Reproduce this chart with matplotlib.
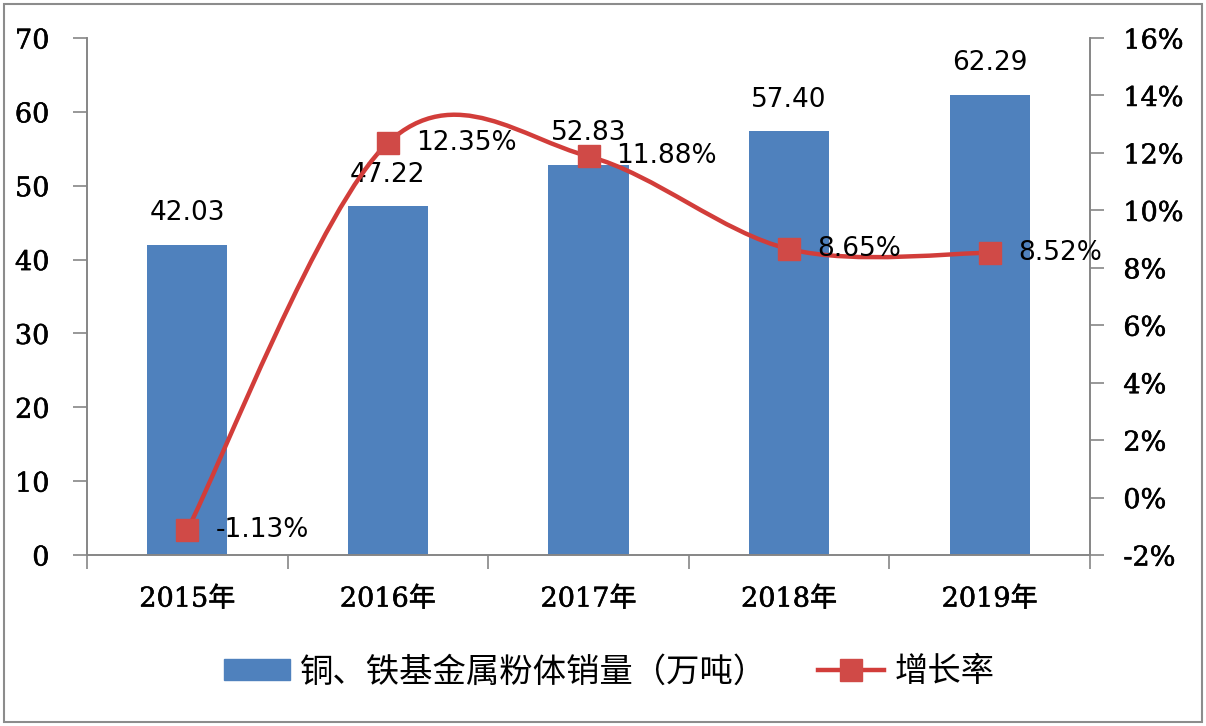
import matplotlib
matplotlib.use('Agg')
import matplotlib.pyplot as plt
import matplotlib.patheffects as pe
from matplotlib.path import Path
from matplotlib.patches import PathPatch, Rectangle
from matplotlib.lines import Line2D
import numpy as np

plt.rcParams['font.family'] = ['Noto Sans CJK SC', 'DejaVu Sans']

# Data
years = ['2015年', '2016年', '2017年', '2018年', '2019年']
sales = [42.03, 47.22, 52.83, 57.40, 62.29]          # 万吨
growth = [-1.13, 12.35, 11.88, 8.65, 8.52]           # %
bar_labels = ['42.03', '47.22', '52.83', '57.40', '62.29']
growth_labels = ['-1.13%', '12.35%', '11.88%', '8.65%', '8.52%']

bar_color = '#4F81BD'
line_color = '#D23D3A'
marker_color = '#D04A47'
axis_gray = '#868686'
tick_font = ['DejaVu Serif', 'Noto Sans CJK SC']
heavier = [pe.withStroke(linewidth=0.4, foreground='black')]

fig = plt.figure(figsize=(12.06, 7.26), dpi=100)
ax = fig.add_axes([87/1206, 1 - 555/726, (1090 - 87)/1206, (555 - 38)/726])
ax2 = ax.twinx()

x = np.arange(len(years))
ax.bar(x, sales, width=0.4, color=bar_color, zorder=2)
ax.set_xlim(-0.5, len(years) - 0.5)
ax.set_ylim(0, 70)
ax.set_yticks(range(0, 71, 10))
ax2.set_ylim(-2, 16)
ax2.set_yticks(range(-2, 17, 2))
ax2.set_yticklabels([f'{v}%' for v in range(-2, 17, 2)])

# bar value labels
for xi, v, lab in zip(x, sales, bar_labels):
    ax.text(xi, v + 2.5, lab, ha='center', va='bottom', fontsize=19,
            family='DejaVu Sans', color='black', zorder=5)

# smoothed growth line (Excel-style Catmull-Rom bezier through the points)
pts = np.column_stack([x, growth]).astype(float)
verts = [tuple(pts[0])]
codes = [Path.MOVETO]
n = len(pts)
for i in range(n - 1):
    p0 = pts[i - 1] if i > 0 else pts[i]
    p1 = pts[i]
    p2 = pts[i + 1]
    p3 = pts[i + 2] if i + 2 < n else pts[i + 1]
    c1 = p1 + (p2 - p0) / 6
    c2 = p2 - (p3 - p1) / 6
    verts += [tuple(c1), tuple(c2), tuple(p2)]
    codes += [Path.CURVE4] * 3
ax2.add_patch(PathPatch(Path(verts, codes), facecolor='none', edgecolor=line_color,
                        lw=3.2, zorder=3))
ax2.plot(x, growth, ls='none', marker='s', ms=16.5, color=marker_color,
         markeredgecolor=marker_color, zorder=4)

for xi, v, lab in zip(x, growth, growth_labels):
    ax2.text(xi + 0.14, v, lab, ha='left', va='center', fontsize=19,
             family='DejaVu Sans', color='black', zorder=5)

# axes styling
for a in (ax, ax2):
    a.spines['top'].set_visible(False)
    for s in ('left', 'right', 'bottom'):
        a.spines[s].set_color(axis_gray)
        a.spines[s].set_linewidth(1.2)
ax.tick_params(axis='y', direction='out', length=10, width=1.2, color=axis_gray,
               pad=17)
ax2.tick_params(axis='y', direction='out', length=10, width=1.2, color=axis_gray,
                pad=14)
for lab in ax.get_yticklabels() + ax2.get_yticklabels():
    lab.set_family(tick_font)
    lab.set_fontsize(19.5)
    lab.set_path_effects(heavier)
ax.set_xticks(np.arange(-0.5, len(years), 1.0))
ax.set_xticklabels([])
ax.set_xticks(x, minor=True)
ax.set_xticklabels(years, minor=True, fontsize=19.5, family=tick_font)
for lab in ax.get_xticklabels(minor=True):
    lab.set_path_effects(heavier)
ax.tick_params(axis='x', which='major', direction='out', length=10, width=1.2,
               color=axis_gray)
ax.tick_params(axis='x', which='minor', length=0, pad=22)

# legend
handles = [Rectangle((0, 0), 1, 1, color=bar_color),
           Line2D([], [], color=line_color, lw=3.2, marker='s', ms=16.5,
                  markerfacecolor=marker_color, markeredgecolor=marker_color)]
fig.legend(handles, ['铜、铁基金属粉体销量（万吨）', '增长率'], loc='center',
           bbox_to_anchor=(0.505, 1 - 672/726), ncol=2, frameon=False, fontsize=24,
           handlelength=2.0, handleheight=0.6, columnspacing=1.5, handletextpad=0.3)

# outer border
fig.patches.append(Rectangle((0.003, 0.005), 0.994, 0.99, transform=fig.transFigure,
                             fill=False, edgecolor='#8C8C8C', lw=1.5))

fig.savefig('out.png', dpi=100)
